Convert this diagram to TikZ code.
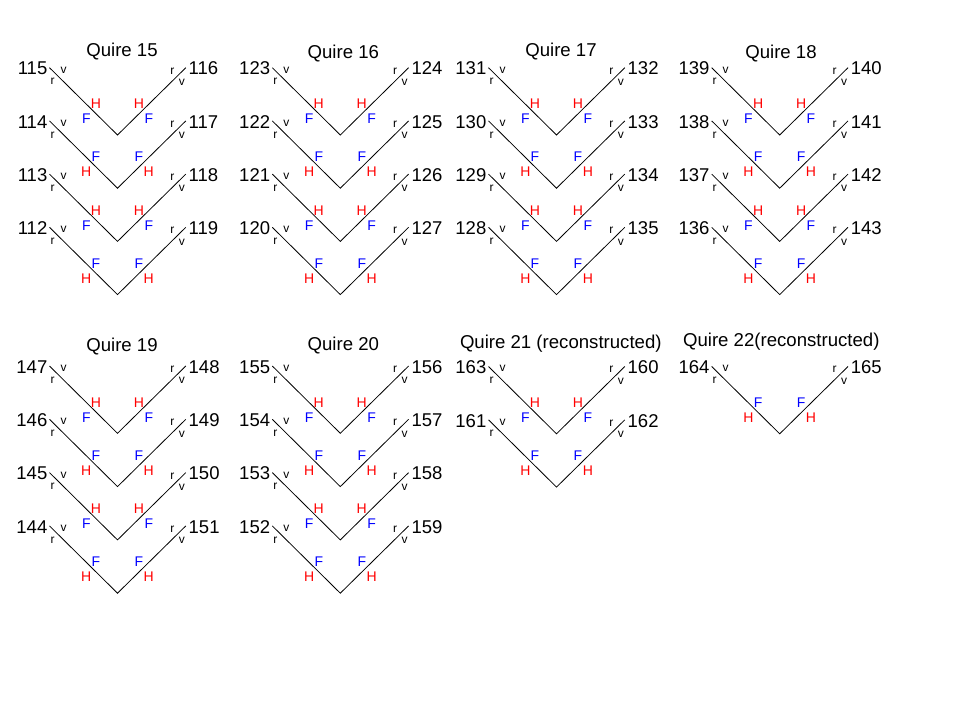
\documentclass[tikz,border=0pt]{standalone}
\usepackage{fontspec}
\setmainfont{Liberation Sans}
\definecolor{hred}{RGB}{255,0,0}
\definecolor{hblue}{RGB}{0,0,255}
\tikzset{
  fold/.style={draw=black, line width=0.8pt},
  num/.style={inner sep=0pt, font=\fontsize{18.5}{20}\selectfont, text height=13.2pt, text depth=0pt},
  ttl/.style={inner sep=0pt, font=\fontsize{18.6}{20}\selectfont, text height=13.3pt, text depth=0pt},
  rv/.style={inner sep=0pt, font=\fontsize{12}{13}\selectfont, text height=6.2pt, text depth=0pt},
  hf/.style={inner sep=0pt, font=\fontsize{14}{15}\selectfont, text height=10pt, text depth=0pt},
  Hs/.style={text=hred},
  Fs/.style={text=hblue},
}
% #1 name, #2 x0, #3 top, #4 left label, #5 right label, #6 upper letter, #7 lower letter
\newcommand{\vfold}[7]{%
  \coordinate (#1l) at (#2,#3);
  \coordinate (#1b) at (#2+68,#3+67.3);
  \coordinate (#1r) at (#2+136.3,#3);
  \draw[fold] (#1l) -- (#1b) -- (#1r);
  \node[num,anchor=east] (#1nl) at (#2-2,#3+0.6) {#4};
  \node[num,anchor=west] (#1nr) at (#2+139,#3+0.6) {#5};
  \node[rv] (#1vl) at (#2+14,#3+2.3) {v};
  \node[rv] (#1rl) at (#2+3,#3+14) {r};
  \node[rv] (#1rr) at (#2+122.9,#3+3.3) {r};
  \node[rv] (#1vr) at (#2+132.3,#3+14.6) {v};
  \node[hf,#6s] (#1ul) at (#2+46.5,#3+36) {#6};
  \node[hf,#6s] (#1ur) at (#2+89.5,#3+36) {#6};
  \node[hf,#7s] (#1dl) at (#2+36.8,#3+51) {#7};
  \node[hf,#7s] (#1dr) at (#2+99.3,#3+51) {#7};
}
\begin{document}
\begin{tikzpicture}[x=1pt,y=-1pt]
\useasboundingbox[fill=white] (0,0) rectangle (961,721);
% titles
\node[ttl] (t15) at (122,50) {Quire 15};
\node[ttl] (t16) at (343.3,52) {Quire 16};
\node[ttl] (t17) at (561,50) {Quire 17};
\node[ttl] (t18) at (781,52) {Quire 18};
\node[ttl] (t19) at (122,345) {Quire 19};
\node[ttl] (t20) at (343.3,344) {Quire 20};
\node[ttl] (t21) at (560.8,341.5) {Quire 21 (reconstructed)};
\node[ttl] (t22) at (781.3,340) {Quire 22(reconstructed)};
% Quire 15
\vfold{qa1}{49.5}{67.7}{115}{116}{H}{F}
\vfold{qa2}{49.5}{120.9}{114}{117}{F}{H}
\vfold{qa3}{49.5}{174.1}{113}{118}{H}{F}
\vfold{qa4}{49.5}{227.3}{112}{119}{F}{H}
% Quire 16
\vfold{qb1}{272.3}{67.7}{123}{124}{H}{F}
\vfold{qb2}{272.3}{120.9}{122}{125}{F}{H}
\vfold{qb3}{272.3}{174.1}{121}{126}{H}{F}
\vfold{qb4}{272.3}{227.3}{120}{127}{F}{H}
% Quire 17
\vfold{qc1}{488.5}{67.7}{131}{132}{H}{F}
\vfold{qc2}{488.5}{120.9}{130}{133}{F}{H}
\vfold{qc3}{488.5}{174.1}{129}{134}{H}{F}
\vfold{qc4}{488.5}{227.3}{128}{135}{F}{H}
% Quire 18
\vfold{qd1}{711.7}{67.7}{139}{140}{H}{F}
\vfold{qd2}{711.7}{120.9}{138}{141}{F}{H}
\vfold{qd3}{711.7}{174.1}{137}{142}{H}{F}
\vfold{qd4}{711.7}{227.3}{136}{143}{F}{H}
% Quire 19
\vfold{qe1}{49.5}{366}{147}{148}{H}{F}
\vfold{qe2}{49.5}{419.3}{146}{149}{F}{H}
\vfold{qe3}{49.5}{472.6}{145}{150}{H}{F}
\vfold{qe4}{49.5}{525.9}{144}{151}{F}{H}
% Quire 20
\vfold{qf1}{272.3}{366}{155}{156}{H}{F}
\vfold{qf2}{272.3}{419.3}{154}{157}{F}{H}
\vfold{qf3}{272.3}{472.6}{153}{158}{H}{F}
\vfold{qf4}{272.3}{525.9}{152}{159}{F}{H}
% Quire 21
\vfold{qg1}{488.5}{366.5}{163}{160}{H}{F}
\vfold{qg2}{488.5}{419.8}{161}{162}{F}{H}
% Quire 22
\vfold{qh1}{711.7}{366.5}{164}{165}{F}{H}
\end{tikzpicture}
\end{document}
